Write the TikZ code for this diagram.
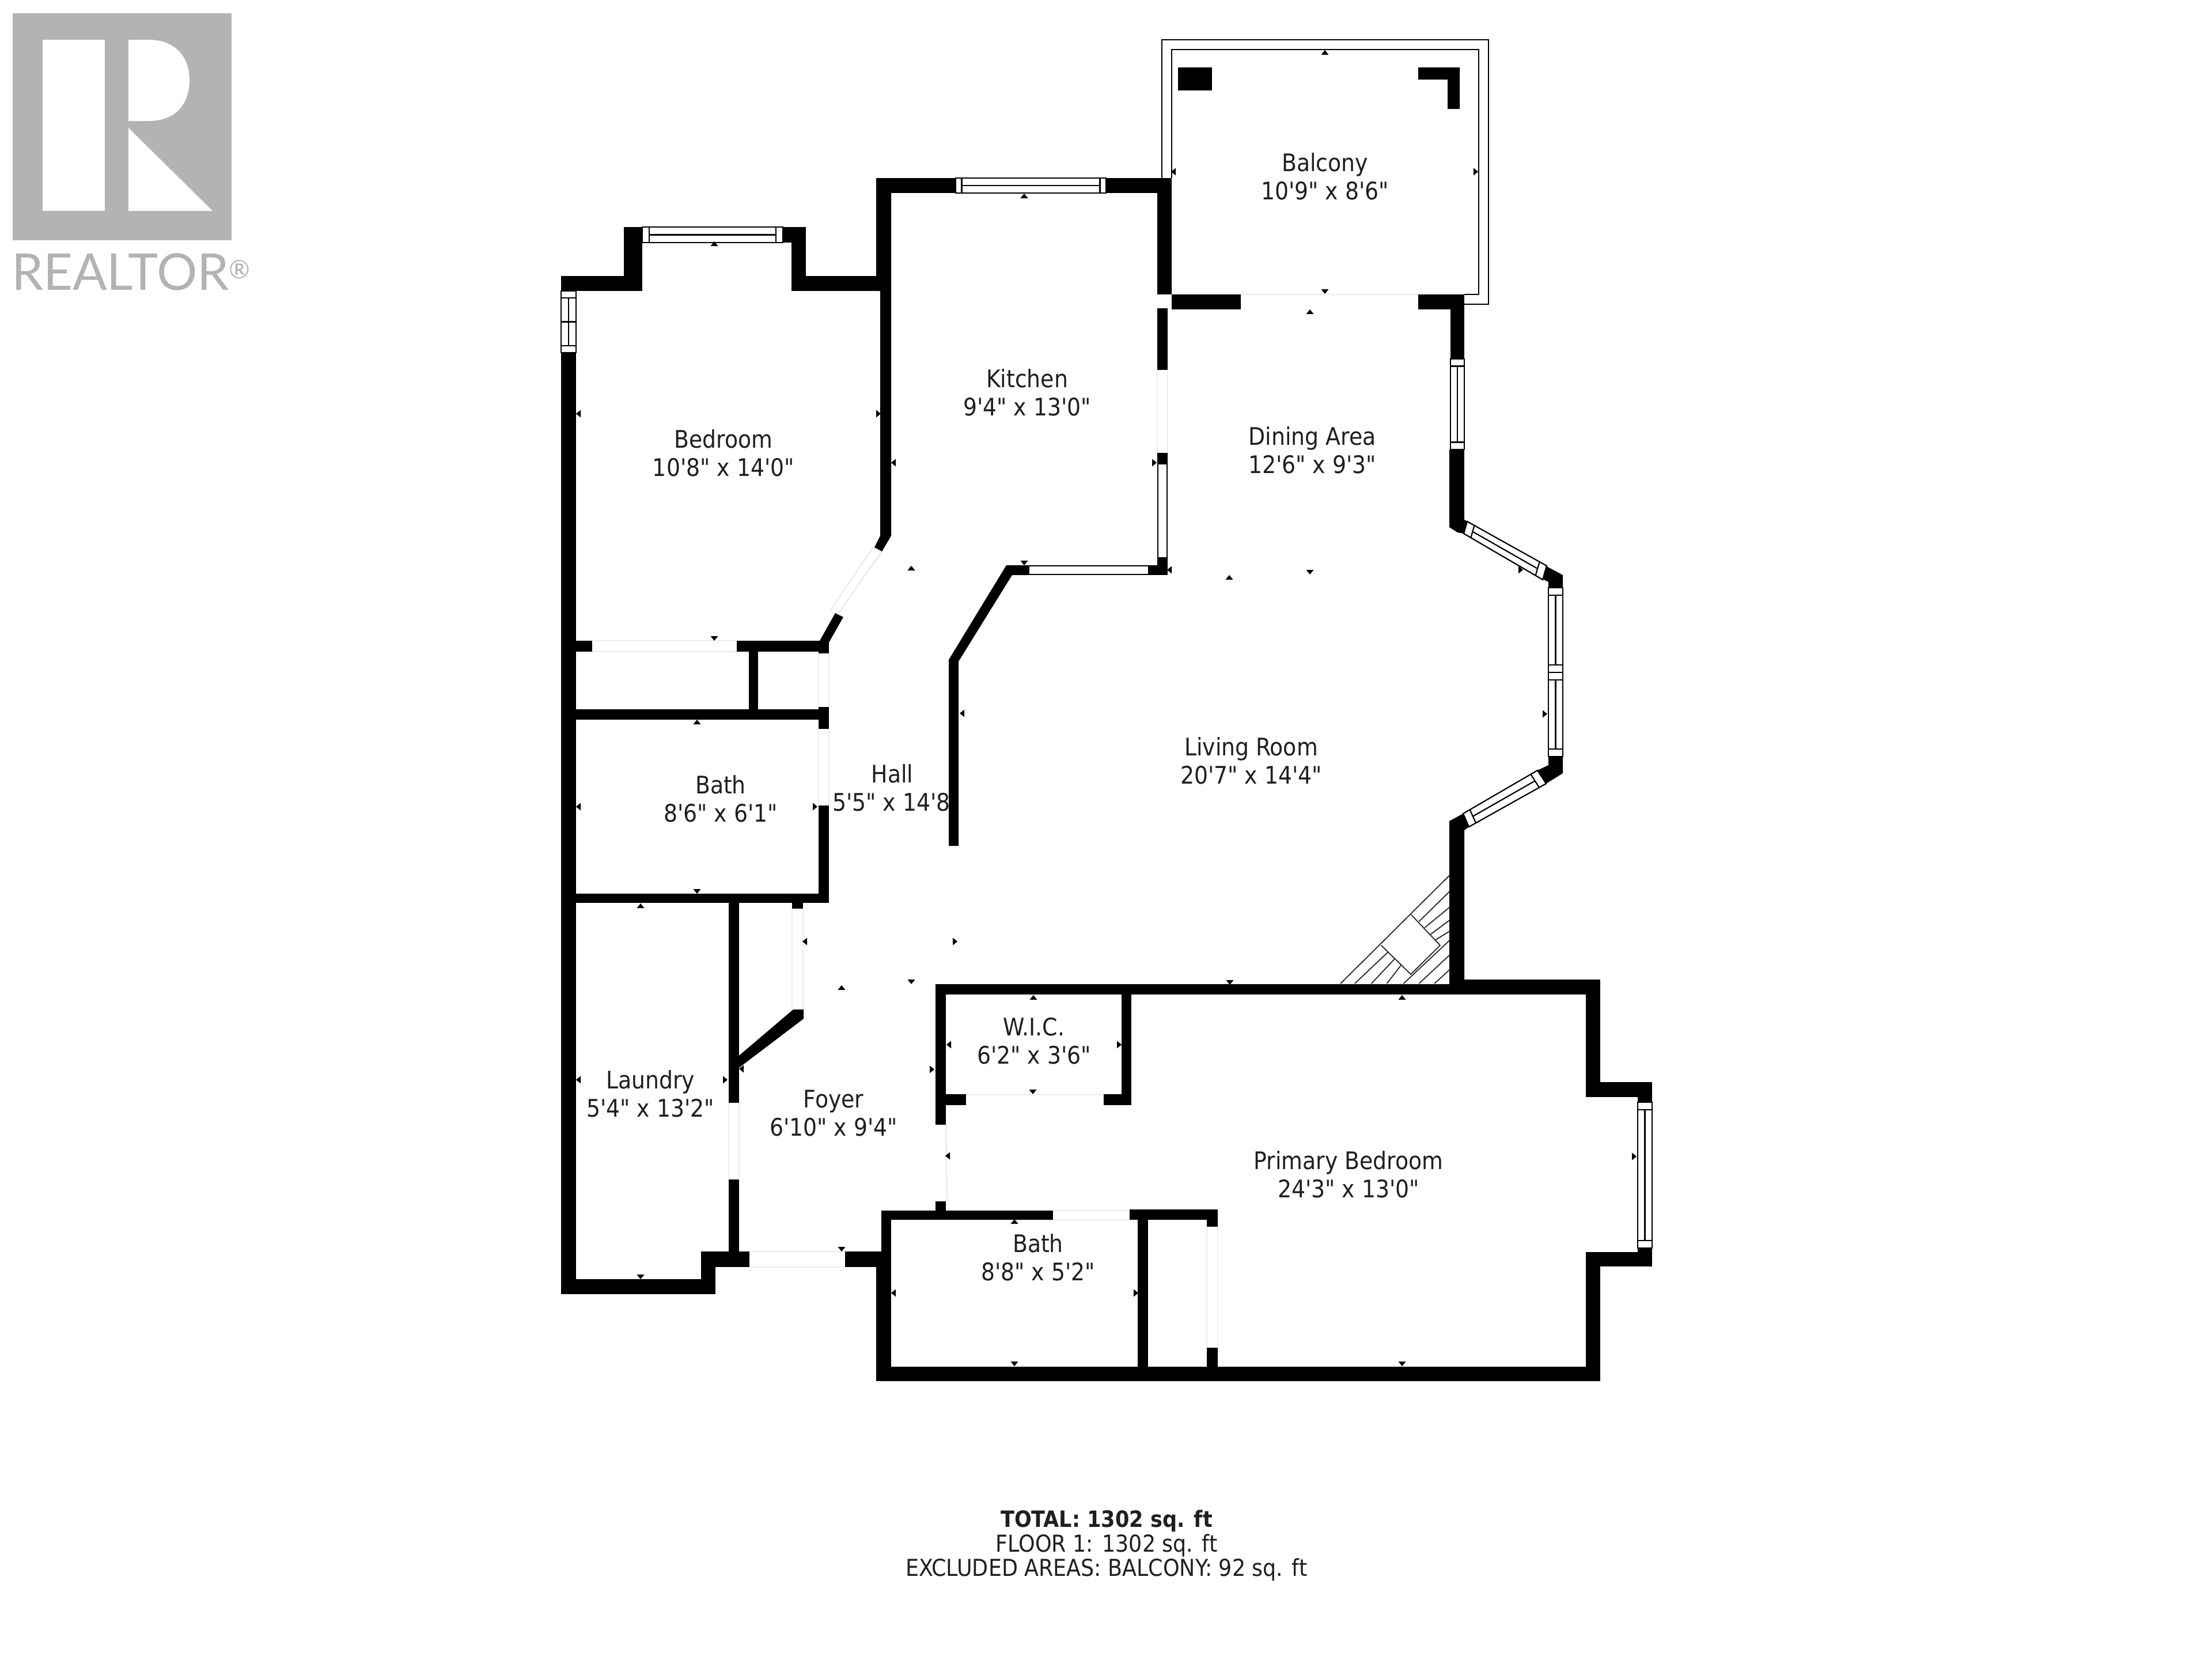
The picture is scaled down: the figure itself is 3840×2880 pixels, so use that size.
\documentclass[tikz,border=0pt]{standalone}
\usepackage{fontspec}
\usetikzlibrary{calc}
\newfontfamily\planfont{DejaVu Sans Condensed}
\newfontfamily\logofont{Lato}
\definecolor{logogrey}{HTML}{B3B3B3}
\definecolor{doorgrey}{HTML}{ECECEC}
\tikzset{
  room/.style={align=center,font=\planfont\fontsize{42}{49}\selectfont,text=black!88,inner sep=0pt},
  foot/.style={font=\planfont\fontsize{40.5}{42}\selectfont,text=black!88,inner sep=0pt},
  thinline/.style={line width=2.2pt,draw=black},
  doorline/.style={line width=2.5pt,draw=doorgrey},
  hatch/.style={line width=1.8pt,draw=black!85},
}
% rectangular wall piece
\newcommand{\wl}[4]{\fill[black] (#1,#2) rectangle (#3,#4);}
% window: four corners (a,b along one long side; d,c along the other) and end-bar fraction
\newcommand{\win}[5]{%
  \draw[thinline,fill=white] #1 -- #2 -- #3 -- #4 -- cycle;
  \draw[thinline] ($#1!#5!#2$) -- ($#4!#5!#3$);
  \draw[thinline] ($#2!#5!#1$) -- ($#3!#5!#4$);
  \draw[thinline] ($($#1!#5!#2$)!0.5!($#4!#5!#3$)$) -- ($($#2!#5!#1$)!0.5!($#3!#5!#4$)$);
}
% door opening: two pale lines
\newcommand{\drH}[4]{\draw[doorline] (#1,#3) -- (#2,#3) (#1,#4) -- (#2,#4);}
\newcommand{\drV}[4]{\draw[doorline] (#1,#3) -- (#1,#4) (#2,#3) -- (#2,#4);}
% dimension ticks
\newcommand{\tku}[2]{\fill[black] (#1,#2) ++(0,-4) -- ++(6.5,8) -- ++(-13,0) -- cycle;}
\newcommand{\tkd}[2]{\fill[black] (#1,#2) ++(0,4) -- ++(6.5,-8) -- ++(-13,0) -- cycle;}
\newcommand{\tkl}[2]{\fill[black] (#1,#2) ++(-4,0) -- ++(8,6.5) -- ++(0,-13) -- cycle;}
\newcommand{\tkr}[2]{\fill[black] (#1,#2) ++(4,0) -- ++(-8,6.5) -- ++(0,-13) -- cycle;}
\begin{document}
\begin{tikzpicture}[x=1pt,y=-1pt]
\useasboundingbox (0,0) rectangle (3840,2880);
\fill[white] (0,0) rectangle (3840,2880);

% --- logo ---
\fill[logogrey] (22,23) rectangle (402,417);
\fill[white] (74,69) rectangle (182,366);
\fill[white] (223,69) -- (258,69) .. controls (305,69) and (329,100) .. (329,139) .. controls (329,180) and (305,210) .. (258,210) -- (223,210) -- cycle;
\fill[white] (223,222) -- (369,366) -- (223,366) -- cycle;
\node[anchor=base west,inner sep=0pt,text=logogrey,font=\logofont\fontsize{88}{88}\selectfont] (logo) at (20,503) {REALTOR\raisebox{20pt}{\fontsize{44}{44}\selectfont ®}};

% --- labels (under the walls, as in the plan) ---
\node[room] (balcony) at (2300,306) {Balcony\\10'9" x 8'6"};
\node[room] (kitchen) at (1783,681) {Kitchen\\9'4" x 13'0"};
\node[room] (dining) at (2278,781) {Dining Area\\12'6" x 9'3"};
\node[room] (bedroom) at (1256,786) {Bedroom\\10'8" x 14'0"};
\node[room] (living) at (2172,1320) {Living Room\\20'7" x 14'4"};
\node[room] (hall) at (1549,1367) {Hall\\\hspace*{14pt}5'5" x 14'8"};
\node[room] (bath1) at (1251,1386) {Bath\\8'6" x 6'1"};
\node[room] (laundry) at (1129,1898) {Laundry\\5'4" x 13'2"};
\node[room] (foyer) at (1447,1932) {Foyer\\6'10" x 9'4"};
\node[room] (wic) at (1795,1807) {W.I.C.\\6'2" x 3'6"};
\node[room] (primary) at (2341,2038) {Primary Bedroom\\24'3" x 13'0"};
\node[room] (bath2) at (1802,2182) {Bath\\8'8" x 5'2"};
\node[foot,font=\planfont\bfseries\fontsize{39}{42}\selectfont] (total) at (1921,2640) {TOTAL: 1302 sq. ft};
\node[foot] (floor1) at (1921,2682) {FLOOR 1: 1302 sq. ft};
\node[foot] (excl) at (1921,2724) {EXCLUDED AREAS: BALCONY: 92 sq. ft};

% --- door openings ---
\drV{2009}{2027}{642}{786}
\drV{1421}{1439}{1134}{1227}
\drV{1421}{1439}{1265}{1398}
\drV{1375}{1394}{1577}{1752}
\drV{1265}{1283}{1914}{2047}
\drH{1301}{1467}{2172}{2199}
\drH{1028}{1279}{1112}{1131}
\draw[doorline] (1677,1900) -- (1916,1900);
\drH{1828}{1961}{2101}{2117}
\drV{2095}{2114}{2129}{2339}
\draw[doorline] (1642,1952) -- (1644,2085);
\draw[doorline] (2154,511) -- (2462,511);
\draw[doorline] (1531,956) -- (1454,1067);
\draw[doorline] (1517,948) -- (1441,1060);

% --- balcony ---
\draw[thinline] (2017,309) -- (2017,69) -- (2584,69) -- (2584,528) -- (2542,528);
\draw[thinline] (2034,309) -- (2034,86) -- (2567,86) -- (2567,511) -- (2542,511);
\wl{2045}{117}{2104}{157}
\fill[black] (2462,117) -- (2534,117) -- (2534,189) -- (2513,189) -- (2513,138) -- (2462,138) -- cycle;

% --- walls ---
% bedroom / kitchen north
\wl{974}{479}{1109}{505}
\wl{1083}{394}{1115}{505}
\wl{1359}{394}{1399}{421}
\wl{1374}{394}{1399}{505}
\wl{1374}{479}{1531}{505}
\wl{974}{612}{1000}{2246}
\fill[black] (1521,309) -- (1547,309) -- (1547,930) -- (1531,957) -- (1518,950) -- (1528,930) -- (1528,505) -- (1521,505) -- cycle;
\wl{1521}{309}{1659}{335}
\wl{1920}{309}{2034}{335}
\wl{2009}{309}{2034}{511}
% balcony south and east wall
\wl{2034}{511}{2154}{537}
\wl{2462}{511}{2542}{537}
\wl{2518}{511}{2542}{623}
\wl{2516}{780}{2542}{915}
\fill[black] (2516,915) -- (2530,924) -- (2541,926) -- (2547,905) -- (2542,902) -- (2516,890) -- cycle;
% kitchen east and south
\wl{2009}{535}{2027}{642}
\wl{2009}{786}{2027}{805}
\wl{2009}{968}{2027}{998}
\wl{1994}{981}{2027}{998}
\draw[thinline,fill=white] (2010,805) rectangle (2026,968);
\draw[thinline,fill=white] (1786,982) rectangle (1994,997);
\fill[black] (1747,981) -- (1786,981) -- (1786,998) -- (1757,998) -- (1664,1148) -- (1664,1468) -- (1647,1468) -- (1647,1145) -- cycle;
% bay corners
\fill[black] (2685,983) -- (2713,998) -- (2713,1020) -- (2688,1020) -- (2688,1010) -- (2678,1005) -- cycle;
\fill[black] (2688,1313) -- (2713,1313) -- (2713,1342) -- (2684,1360) -- (2669,1337) -- (2688,1328) -- cycle;
\fill[black] (2516,1425) -- (2540,1412) -- (2550,1435) -- (2542,1441) -- (2542,1725) -- (2516,1725) -- cycle;
% closet and bath
\wl{1000}{1112}{1028}{1131}
\wl{1279}{1112}{1423}{1131}
\wl{1421}{1112}{1439}{1134}
\fill[black] (1423,1112) -- (1450,1064) -- (1464,1071) -- (1439,1115) -- cycle;
\wl{1300}{1131}{1316}{1232}
\wl{1000}{1231}{1423}{1249}
\wl{1421}{1227}{1439}{1265}
\wl{1421}{1398}{1439}{1567}
\wl{1000}{1551}{1439}{1567}
\wl{1375}{1567}{1394}{1577}
\fill[black] (1377,1752) -- (1395,1752) -- (1395,1768) -- (1283,1853) -- (1283,1832) -- cycle;
% laundry
\wl{1265}{1567}{1283}{1914}
\wl{1265}{2047}{1283}{2172}
\wl{1217}{2172}{1301}{2199}
\wl{1467}{2172}{1525}{2199}
\wl{1217}{2172}{1242}{2246}
\wl{974}{2220}{1242}{2246}
% WIC
\wl{1624}{1708}{2530}{1726}
\wl{1624}{1708}{1642}{1952}
\wl{1642}{1899}{1677}{1918}
\wl{1916}{1899}{1964}{1918}
\wl{1947}{1726}{1964}{1918}
% south bath and primary bedroom
\wl{1624}{2085}{1642}{2101}
\wl{1530}{2101}{1828}{2117}
\wl{1961}{2099}{2114}{2117}
\wl{2095}{2117}{2114}{2129}
\wl{2095}{2339}{2114}{2372}
\wl{1975}{2117}{1993}{2372}
\wl{1530}{2101}{1547}{2172}
\wl{1521}{2172}{1547}{2397}
\wl{1521}{2372}{2778}{2397}
\wl{2753}{2173}{2778}{2397}
\wl{2753}{2173}{2868}{2198}
\wl{2843}{2166}{2868}{2198}
\wl{2753}{1878}{2868}{1904}
\wl{2843}{1878}{2868}{1913}
\wl{2753}{1700}{2778}{1904}
\wl{2516}{1700}{2778}{1726}

% --- windows ---
\win{(1115,394)}{(1359,394)}{(1359,421)}{(1115,421)}{0.05}
\win{(974,505)}{(1000,505)}{(1000,612)}{(974,612)}{0}
\draw[thinline] (974,517) -- (1000,517) (974,600) -- (1000,600) (987,517) -- (987,600);
\win{(1659,309)}{(1920,309)}{(1920,335)}{(1659,335)}{0.04}
\win{(2518,623)}{(2518,780)}{(2542,780)}{(2542,623)}{0.08}
\win{(2547,905)}{(2685,982)}{(2678,1006)}{(2541,926)}{0.09}
\win{(2688,1020)}{(2688,1167)}{(2713,1167)}{(2713,1020)}{0.09}
\win{(2688,1167)}{(2688,1313)}{(2713,1313)}{(2713,1167)}{0.09}
\win{(2669,1337)}{(2540,1412)}{(2550,1435)}{(2684,1360)}{0.09}
\win{(2843,1913)}{(2843,2166)}{(2868,2166)}{(2868,1913)}{0.05}

% --- fireplace, traced in enlarged coordinates ---
\begin{scope}[shift={(2200,800)},x=0.4464pt,y=-0.6378pt]
  \draw[hatch] (708,1128) -- (285,1422);
  \draw[hatch] (560,1235) -- (672,1318) -- (558,1397) -- (443,1318);
  \draw[hatch] (590,1253) -- (708,1172) (612,1270) -- (708,1215) (635,1288) -- (708,1250) (655,1303) -- (708,1280);
  \draw[hatch] (340,1422) -- (470,1336) (405,1422) -- (495,1355) (465,1422) -- (520,1372) (530,1422) -- (708,1305) (590,1422) -- (708,1345) (650,1422) -- (708,1385);
\end{scope}

% --- dimension ticks ---
\tku{1240}{423}\tkl{1004}{718}\tkr{1525}{718}\tkl{1551}{803}\tku{1582}{986}\tkd{1240}{1108}
\tku{2300}{91}\tkl{2037}{298}\tkr{2562}{298}\tkd{2300}{506}\tku{2274}{541}\tku{1778}{340}
\tkr{2004}{803}\tkd{1778}{977}\tkl{2030}{989}\tku{2134}{1002}\tkd{2274}{993}\tkr{2640}{989}
\tkl{1670}{1238}\tku{1210}{1253}\tkl{1004}{1400}\tkr{1415}{1400}\tkd{1210}{1547}\tku{1112}{1572}
\tkl{1397}{1634}\tkr{1658}{1634}\tku{1461}{1714}\tkd{1582}{1704}\tku{1794}{1731}
\tkl{1004}{1874}\tkr{1259}{1874}\tkd{1112}{2216}\tkl{1287}{1855}\tkd{1461}{2168}\tkr{1618}{1856}
\tkl{1647}{1813}\tkr{1943}{1813}\tkd{1793}{1895}\tkl{1645}{2006}\tku{1761}{2120}\tkl{1551}{2244}
\tkr{1972}{2244}\tkd{1761}{2367}\tkd{2135}{1705}\tku{2434}{1731}\tkr{2837}{2007}\tkd{2434}{2367}\tkr{2682}{1239}
\end{tikzpicture}
\end{document}
